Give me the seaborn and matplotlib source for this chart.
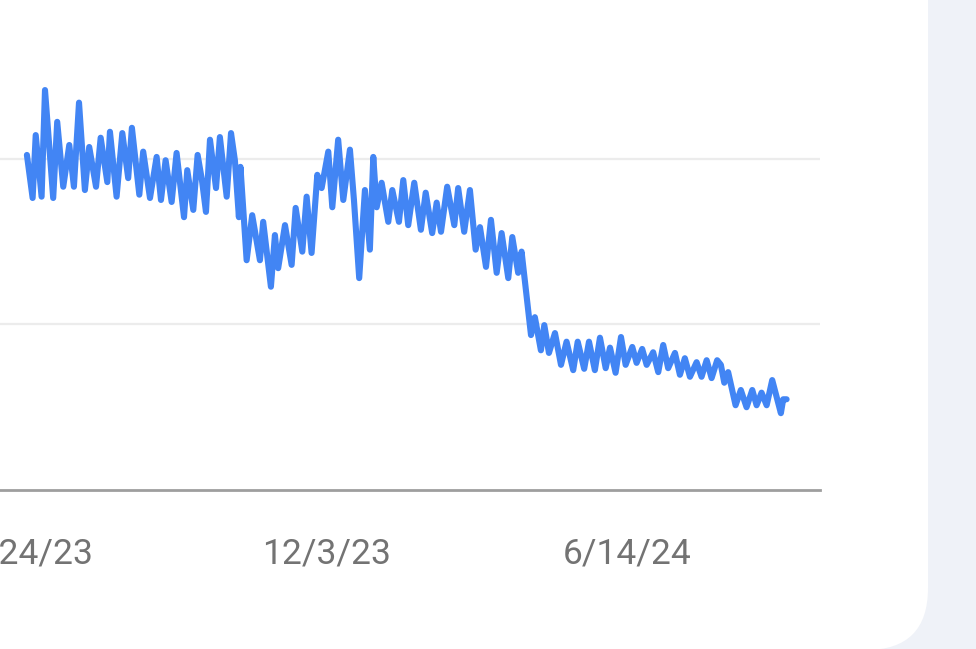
import pandas as pd
import seaborn as sns
import matplotlib.pyplot as plt
from matplotlib.patches import FancyBboxPatch

# days after 5/24/23, and the interest value at that point (peaks and troughs)
start_date = "2023-05-24"
day_offsets = [
    -1.0, 2.7, 4.7, 8.5, 10.7, 16.0, 18.6, 22.5, 26.4, 29.4, 32.7, 36.5, 39.3, 43.7, 46.7,
    51.0, 52.7, 57.0, 60.7, 64.5, 66.9, 71.7, 74.2, 78.6, 82.9, 85.7, 88.7, 92.6, 95.8,
    100.6, 102.7, 106.6, 109.4, 112.2, 114.8, 117.4, 121.3, 123.8, 128.2, 131.0, 133.5,
    136.1, 137.1, 141.1, 144.7, 149.7, 151.8, 156.8, 159.4, 161.5, 165.9, 170.2, 172.8,
    177.1, 179.9, 183.1, 186.8, 189.6, 193.9, 196.5, 200.3, 203.6, 207.9, 210.5, 213.9,
    217.6, 220.8, 223.0, 225.2, 228.4, 232.7, 235.3, 239.6, 242.4, 245.6, 249.5, 253.8,
    256.9, 261.1, 264.0, 266.8, 270.8, 275.4, 277.9, 281.8, 285.5, 289.2, 292.0, 295.9,
    299.1, 302.8, 306.0, 310.3, 312.9, 316.7, 318.9, 322.2, 325.0, 327.5, 331.4, 333.6,
    336.6, 340.5, 344.4, 348.0, 352.3, 355.2, 359.4, 362.5, 366.3, 369.6, 373.3, 376.1,
    379.7, 383.2, 386.2, 390.5, 393.3, 396.9, 399.8, 404.0, 407.3, 410.5, 413.7, 418.1,
    421.3, 424.5, 427.8, 432.1, 435.3, 438.6, 441.8, 445.4, 447.8, 450.0, 452.5, 457.3,
    460.7, 464.4, 468.1, 470.9, 474.1, 477.4, 481.0, 486.6, 488.1, 490.3,
]
interest = [
    50.6, 44.1, 53.6, 44.3, 60.4, 44.1, 55.6, 45.8, 52.1, 45.8, 58.5, 45.3, 51.8, 45.8, 53.2,
    46.5, 54.1, 44.3, 53.9, 47.1, 54.7, 44.6, 51.1, 44.1, 50.3, 43.8, 49.8, 43.5, 50.9,
    41.2, 48.3, 42.3, 50.6, 46.8, 42.0, 52.9, 45.6, 53.3, 44.3, 53.9, 49.8,
    41.2, 48.8, 34.7, 41.5, 34.7, 40.5, 30.7, 38.5, 33.5, 40.0, 34.0, 42.6,
    36.0, 44.3, 35.8, 47.6, 45.6, 51.1, 42.7, 52.9, 43.8, 51.4, 43.8, 32.0,
    45.3, 36.3, 50.3, 42.7, 46.4, 40.5, 45.3, 40.5, 46.8, 40.0, 46.4, 39.3,
    44.9, 38.8, 43.4, 39.0, 45.8, 40.0, 45.6, 39.0, 45.3, 36.3, 39.7, 33.7,
    40.8, 32.8, 38.8, 32.0, 38.2, 32.8, 36.0, 29.2, 23.4, 26.1, 21.1, 24.9,
    20.7, 23.7, 18.9, 22.4, 18.1, 22.4, 18.3, 22.4, 18.1, 23.0, 18.4, 21.5,
    17.7, 23.1, 18.9, 21.6, 19.2, 21.3, 18.9, 20.8, 17.8, 21.9, 18.4, 20.7,
    17.4, 19.9, 17.1, 19.3, 17.1, 19.6, 16.9, 19.6, 18.9, 16.2, 17.8, 12.8,
    15.1, 12.5, 15.1, 12.8, 14.7, 12.8, 16.6, 11.6, 13.7, 13.7,
]
tick_dates = ["2023-05-24", "2023-12-03", "2024-06-14"]
tick_labels = ["5/24/23", "12/3/23", "6/14/24"]
grid_values = [25, 50]

df = pd.DataFrame({
    "date": pd.Timestamp(start_date) + pd.to_timedelta(day_offsets, unit="D"),
    "interest": interest,
})

sns.set_theme(style="white")
plt.rcParams["font.family"] = ["Roboto", "DejaVu Sans"]

fig = plt.figure(figsize=(9.76, 6.49), dpi=100)
fig.patch.set_facecolor("#eff2f8")

# white card behind the chart, only its rounded bottom-right corner is visible
bg = fig.add_axes([0, 0, 1, 1], zorder=-1)
bg.set_xlim(0, 976)
bg.set_ylim(649, 0)
bg.axis("off")
bg.add_patch(FancyBboxPatch((-200, -200), 1128, 850, boxstyle="round,pad=0,rounding_size=62",
                            facecolor="white", edgecolor="none"))

ax = fig.add_axes([0, 159 / 649, 820 / 976, 490 / 649])
ax.set_facecolor("none")
sns.lineplot(data=df, x="date", y="interest", color="#4285f4", linewidth=4.4, ax=ax,
             solid_joinstyle="round", solid_capstyle="round")

ax.set_xlim(pd.Timestamp(start_date) - pd.Timedelta(days=18.4),
            pd.Timestamp(start_date) + pd.Timedelta(days=511.9))
ax.set_ylim(0, 74.0)

for g in grid_values:
    ax.axhline(g, color="#ececec", linewidth=1.6, zorder=0)

ax.set_xticks(pd.to_datetime(tick_dates))
ax.set_xticklabels(tick_labels)
ax.set_yticks([])
ax.tick_params(axis="x", length=0, pad=34, labelsize=25.5, labelcolor="#737373")
ax.set_xlabel("")
ax.set_ylabel("")

for side in ["top", "left", "right"]:
    ax.spines[side].set_visible(False)
ax.spines["bottom"].set_color("#9e9e9e")
ax.spines["bottom"].set_linewidth(2.0)

fig.savefig("out.png", dpi=100, facecolor=fig.get_facecolor())
